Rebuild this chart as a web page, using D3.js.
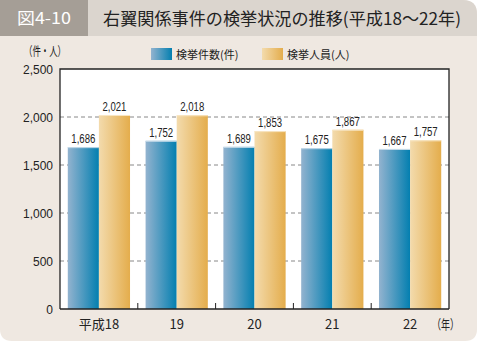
<!DOCTYPE html>
<html><head><meta charset="utf-8">
<script src="https://cdn.jsdelivr.net/npm/d3@7"></script>
<style>body{margin:0;background:#fff}svg{display:block}</style>
</head><body>
<svg id="c" width="477" height="341"></svg>
<script>
const categories = ["平成18","19","20","21","22"];
const cases = [1686,1752,1689,1675,1667];
const persons = [2021,2018,1853,1867,1757];
const yTicks = [0,500,1000,1500,2000,2500];
const seriesNames = ["検挙件数(件)","検挙人員(人)"];

const svg = d3.select("#c");
const W=477,H=341;
const font = "'Liberation Sans', Arial, sans-serif";
const jfont = "'Noto Sans CJK JP', sans-serif";

const defs = svg.append("defs");
const gb = defs.append("linearGradient").attr("id","gb");
gb.append("stop").attr("offset","0%").attr("stop-color","#93b3cf");
gb.append("stop").attr("offset","100%").attr("stop-color","#037fb0");
const go = defs.append("linearGradient").attr("id","go");
go.append("stop").attr("offset","0%").attr("stop-color","#f3dbad");
go.append("stop").attr("offset","100%").attr("stop-color","#e4ad4c");
defs.append("clipPath").attr("id","rc").append("path")
  .attr("d",`M0,0 H${W-14} Q${W},0 ${W},14 V${H-12} Q${W},${H} ${W-12},${H} H12 Q0,${H} 0,${H-12} Z`);

const root = svg.append("g").attr("clip-path","url(#rc)");
root.append("rect").attr("width",W).attr("height",H).attr("fill","#efe8e1");
root.append("rect").attr("width",W).attr("height",36).attr("fill","#dbd5ce");
root.append("rect").attr("width",88).attr("height",36).attr("fill","#a59e96");
root.append("text").attr("x",17).attr("y",24).attr("fill","#fff").attr("font-family",jfont)
  .attr("font-size",16).attr("textLength",54).attr("lengthAdjust","spacingAndGlyphs").text("図4-10");
root.append("text").attr("x",103).attr("y",25).attr("fill","#222").attr("font-family",jfont)
  .attr("font-size",17).attr("textLength",358).attr("lengthAdjust","spacingAndGlyphs")
  .text("右翼関係事件の検挙状況の推移(平成18〜22年)");

const m={l:60,r:449,t:69,b:309};
const x = d3.scaleBand().domain(categories).range([m.l,m.r]).paddingInner(0.2).paddingOuter(0.1);
const xs = d3.scaleBand().domain([0,1]).range([0,x.bandwidth()]);
const y = d3.scaleLinear().domain([0,2500]).range([m.b,m.t]);

root.append("rect").attr("x",m.l).attr("y",m.t).attr("width",m.r-m.l).attr("height",m.b-m.t).attr("fill","#fff");

// grid
root.append("g").selectAll("line").data(yTicks.filter(d=>d>0&&d<2500)).join("line")
  .attr("x1",m.l).attr("x2",m.r).attr("y1",d=>y(d)).attr("y2",d=>y(d))
  .attr("stroke","#888").attr("stroke-dasharray","4,3").attr("stroke-width",1);

const data = categories.map((c,i)=>({c,v:[cases[i],persons[i]]}));
const g = root.append("g");
data.forEach(d=>{
  d.v.forEach((v,j)=>{
    const bx = x(d.c)+xs(j);
    g.append("rect").attr("x",bx).attr("y",y(v)).attr("width",xs.bandwidth()).attr("height",m.b-y(v))
      .attr("fill",j===0?"url(#gb)":"url(#go)");
    g.append("line").attr("x1",bx).attr("x2",bx+xs.bandwidth()).attr("y1",y(v)+0.5).attr("y2",y(v)+0.5)
      .attr("stroke",j===0?"#c8dcea":"#f8e6c4").attr("stroke-width",1);
    const cx = bx+xs.bandwidth()/2;
    g.append("text").attr("transform",`translate(${cx},${y(v)-4}) scale(0.8,1)`).attr("text-anchor","middle")
      .attr("font-family",font).attr("font-size",12)
      .attr("fill","#222").text(d3.format(",")(v));
  });
});

// frame
root.append("path").attr("d",`M${m.l},${m.b} V${m.t} H${m.r} V${m.b}`).attr("fill","none").attr("stroke","#222").attr("stroke-width",1.3);
root.append("line").attr("x1",m.l).attr("x2",m.r).attr("y1",m.b).attr("y2",m.b).attr("stroke","#222").attr("stroke-width",1.3);
// x ticks between categories
root.append("g").selectAll("line").data(categories.slice(1)).join("line")
  .attr("x1",d=>x(d)-x.step()*x.paddingInner()/2).attr("x2",d=>x(d)-x.step()*x.paddingInner()/2)
  .attr("y1",m.b).attr("y2",m.b-6).attr("stroke","#222");

// y labels
root.append("g").selectAll("text").data(yTicks).join("text")
  .attr("x",53).attr("y",d=>y(d)+4.5).attr("text-anchor","end").attr("font-family",font)
  .attr("font-size",12).attr("fill","#222").text(d=>d3.format(",")(d));
// x labels
root.append("g").selectAll("text").data(categories).join("text")
  .attr("x",d=>x(d)+x.bandwidth()/2).attr("y",329).attr("text-anchor","middle")
  .attr("font-family",jfont).attr("font-size",13).attr("fill","#222").text(d=>d);
root.append("text").attr("x",432).attr("y",329).attr("font-family",jfont).attr("font-size",13)
  .attr("textLength",27).attr("lengthAdjust","spacingAndGlyphs").attr("fill","#222").text("（年）");
root.append("text").attr("x",24).attr("y",56).attr("font-family",jfont).attr("font-size",12.5)
  .attr("textLength",42).attr("lengthAdjust","spacingAndGlyphs").attr("fill","#222").text("（件・人）");

// legend
const lx=[151,262];
seriesNames.forEach((n,i)=>{
  root.append("rect").attr("x",lx[i]).attr("y",48).attr("width",21).attr("height",12).attr("fill",i===0?"url(#gb)":"url(#go)");
  root.append("text").attr("x",lx[i]+25).attr("y",58.5).attr("font-family",jfont).attr("font-size",11).attr("fill","#222").text(n);
});
</script>
</body></html>
